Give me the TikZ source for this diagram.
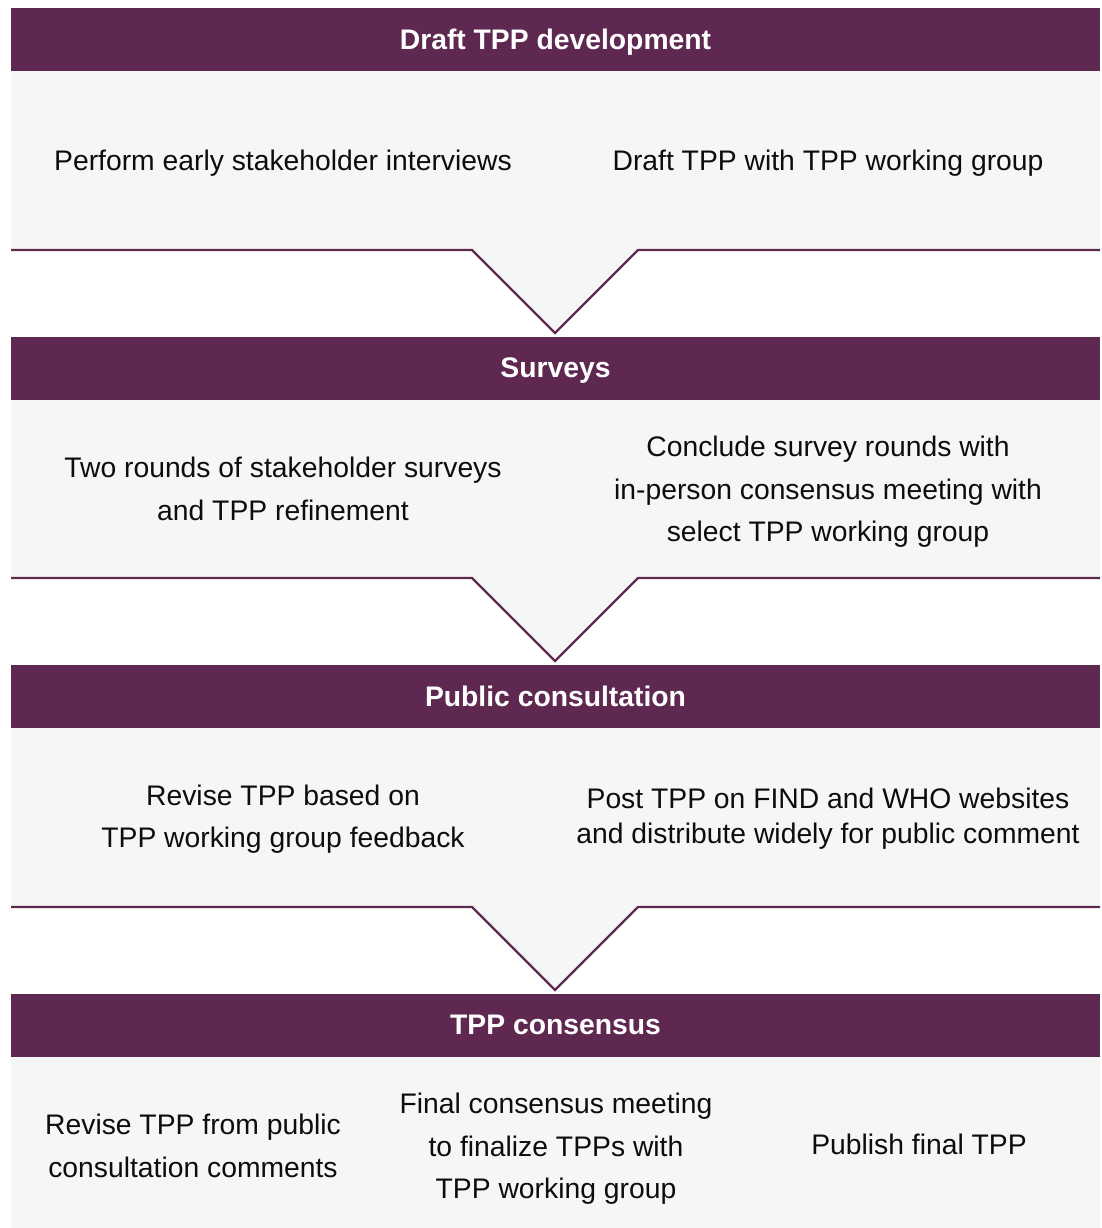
\documentclass[tikz,border=0pt]{standalone}
\usepackage{fontspec}
\setmainfont{Liberation Sans}
\definecolor{tppplum}{HTML}{5F2851}
\definecolor{panelgray}{HTML}{F5F6F6}

\begin{document}
\begin{tikzpicture}[x=1bp,y=-1bp,thick,
  head node/.style={fill=tppplum,text=white,font=\fontsize{28.4}{42.6}\selectfont\bfseries,minimum width=1089bp,minimum height=63bp,inner sep=0pt,text depth=0pt},
  main node/.style={align=center,font=\fontsize{28.4}{42.6}\selectfont,text=black!95,inner sep=0pt,yshift=-3bp},
  chevron/.style={draw=tppplum,line width=2.4bp,fill=panelgray}]
    \useasboundingbox (0,0) rectangle (1102,1228);

    % gray panels with chevrons
    \fill[panelgray] (11,71) rectangle (1100,250);
    \draw[chevron] (11,250) -- (472,250) -- (555,333) -- (638,250) -- (1100,250);
    \fill[panelgray] (11,399) rectangle (1100,578);
    \draw[chevron] (11,578) -- (472,578) -- (555,661) -- (638,578) -- (1100,578);
    \fill[panelgray] (11,727) rectangle (1100,907);
    \draw[chevron] (11,907) -- (472,907) -- (555,990) -- (638,907) -- (1100,907);
    \fill[panelgray] (11,1056) rectangle (1100,1228);

    % headers
    \node[head node] (draft) at (555.5,39.5) {Draft TPP development};
    \node[head node] (surveys) at (555.5,368) {Surveys};
    \node[head node] (public) at (555.5,696) {Public consultation};
    \node[head node] (consensus) at (555.5,1025) {TPP consensus};

    % steps
    \node[main node] (interviews) at (283,160) {Perform early stakeholder interviews};
    \node[main node] (drafting) at (828,160) {Draft TPP with TPP working group};

    \node[main node] (rounds) at (283,486) {Two rounds of stakeholder surveys\\and TPP refinement};
    \node[main node] (conclude) at (828,489) {Conclude survey rounds with\\in-person consensus meeting with\\select TPP working group};

    \node[main node] (revise) at (283,816) {Revise TPP based on\\TPP working group feedback};
    \node[main node, font=\fontsize{28.4}{35}\selectfont] (post) at (828,816) {Post TPP on FIND and WHO websites\\and distribute widely for public comment};

    \node[main node] (comments) at (193,1143) {Revise TPP from public\\consultation comments};
    \node[main node] (final) at (556,1146) {Final consensus meeting\\to finalize TPPs with\\TPP working group};
    \node[main node] (publish) at (919,1141) {Publish final TPP};
\end{tikzpicture}
\end{document}
